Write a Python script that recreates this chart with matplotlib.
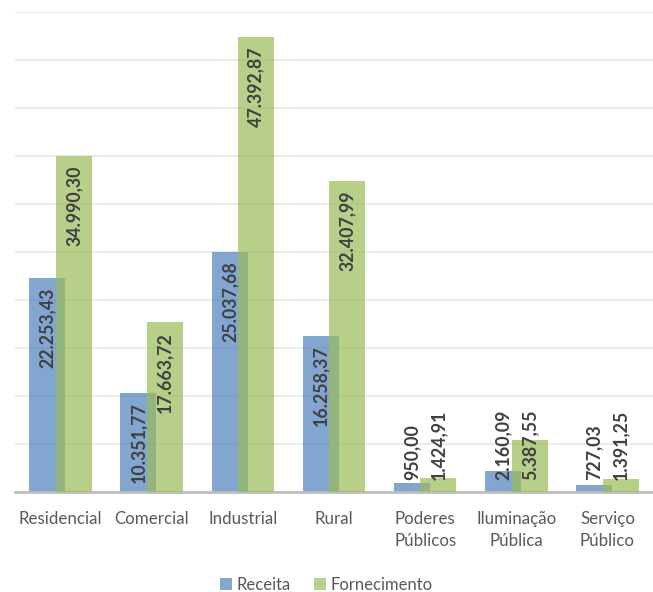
import numpy as np
import matplotlib
matplotlib.use('Agg')
import matplotlib.pyplot as plt
from matplotlib.patches import Patch

# =============================================================================
# DATA
# =============================================================================
categories = ['Residencial', 'Comercial', 'Industrial', 'Rural',
              'Poderes\nPúblicos', 'Iluminação\nPública', 'Serviço\nPúblico']
receita = [22253.43, 10351.77, 25037.68, 16258.37, 950.00, 2160.09, 727.03]
fornecimento = [34990.30, 17663.72, 47392.87, 32407.99, 1424.91, 5387.55, 1391.25]
series_names = ['Receita', 'Fornecimento']

# =============================================================================
# STYLE
# =============================================================================
BLUE = '#4F81BD'
GREEN = '#9BBB59'
ALPHA = 0.7
TEXT_GRAY = '#595959'
LABEL_GRAY = '#404040'
FONT = ['Lato', 'DejaVu Sans']

plt.rcParams['font.family'] = FONT


def fmt_br(v):
    s = f"{v:,.2f}"
    return s.replace(',', 'X').replace('.', ',').replace('X', '.')


fig = plt.figure(figsize=(6.53, 5.92), dpi=100)
ax = fig.add_axes([15 / 653, 100 / 592, 638 / 653, 480 / 592])

x = np.arange(len(categories))
width = 0.395
offset = 0.145

ax.bar(x - offset, receita, width, color=BLUE, alpha=ALPHA, zorder=2)
ax.bar(x + offset, fornecimento, width, color=GREEN, alpha=ALPHA, zorder=3)

# data labels (rotated, inside end or near base for short bars)
for xs, vals in [(x - offset, receita), (x + offset, fornecimento)]:
    for xi, v in zip(xs, vals):
        if v > 8000:
            ax.text(xi, v - 1000, fmt_br(v), rotation=90, ha='center',
                    va='top', fontsize=12.8, fontweight='bold',
                    color=LABEL_GRAY, zorder=5)
        else:
            ax.text(xi, 1250, fmt_br(v), rotation=90, ha='center',
                    va='bottom', fontsize=12.8, fontweight='bold',
                    color=LABEL_GRAY, zorder=5)

ax.set_xlim(-0.5, len(categories) - 0.5)
ax.set_ylim(0, 50000)
ax.set_yticks(np.arange(0, 50001, 5000))
ax.yaxis.grid(True, color='#ebebeb', lw=1.5, zorder=0)
ax.set_axisbelow(True)
ax.tick_params(axis='y', left=False, labelleft=False)
ax.tick_params(axis='x', bottom=False, pad=10)
ax.set_xticks(x)
ax.set_xticklabels(categories, fontsize=12.2, color=TEXT_GRAY, linespacing=1.45)

for side in ['top', 'right', 'left']:
    ax.spines[side].set_visible(False)
ax.spines['bottom'].set_color('#bfbfbf')
ax.spines['bottom'].set_linewidth(2)

handles = [Patch(facecolor=BLUE, alpha=ALPHA), Patch(facecolor=GREEN, alpha=ALPHA)]
fig.legend(handles, series_names, loc='center', bbox_to_anchor=(0.5, 7 / 592),
           ncol=2, frameon=False, fontsize=12, handlelength=0.7,
           handleheight=0.7, handletextpad=0.3, columnspacing=1.4,
           labelcolor=TEXT_GRAY)

fig.savefig('out.png', dpi=100)
